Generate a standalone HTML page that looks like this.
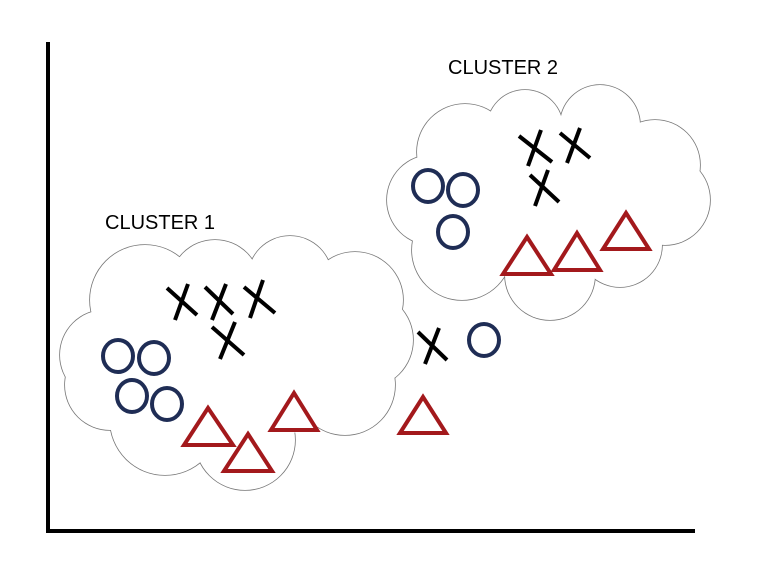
<!DOCTYPE html><html><head><style>body{margin:0;background:#fff}</style></head><body>
<svg width="760" height="576" xmlns="http://www.w3.org/2000/svg">
<rect width="760" height="576" fill="#fff"/>
<g stroke="#777" stroke-width="1.6" fill="#fff">
<circle cx="145" cy="300" r="55"/><circle cx="215" cy="285" r="45"/><circle cx="290" cy="278" r="42"/>
<circle cx="355" cy="300" r="48"/><circle cx="365" cy="340" r="48"/><circle cx="345" cy="385" r="50"/>
<circle cx="245" cy="440" r="50"/><circle cx="165" cy="420" r="55"/><circle cx="110" cy="385" r="45"/><circle cx="105" cy="355" r="45"/>
<circle cx="465" cy="152" r="48"/><circle cx="525" cy="128" r="38"/><circle cx="600" cy="125" r="40"/>
<circle cx="655" cy="165" r="45"/><circle cx="665" cy="200" r="45"/><circle cx="620" cy="245" r="42"/>
<circle cx="550" cy="275" r="45"/><circle cx="462" cy="250" r="50"/><circle cx="432" cy="200" r="45"/>
</g>
<g fill="#fff">
<circle cx="145" cy="300" r="55"/><circle cx="215" cy="285" r="45"/><circle cx="290" cy="278" r="42"/>
<circle cx="355" cy="300" r="48"/><circle cx="365" cy="340" r="48"/><circle cx="345" cy="385" r="50"/>
<circle cx="245" cy="440" r="50"/><circle cx="165" cy="420" r="55"/><circle cx="110" cy="385" r="45"/><circle cx="105" cy="355" r="45"/>
<ellipse cx="240" cy="360" rx="130" ry="80"/>
<circle cx="465" cy="152" r="48"/><circle cx="525" cy="128" r="38"/><circle cx="600" cy="125" r="40"/>
<circle cx="655" cy="165" r="45"/><circle cx="665" cy="200" r="45"/><circle cx="620" cy="245" r="42"/>
<circle cx="550" cy="275" r="45"/><circle cx="462" cy="250" r="50"/><circle cx="432" cy="200" r="45"/>
<ellipse cx="550" cy="200" rx="110" ry="75"/>
</g>
<g stroke="#000" stroke-width="4">
<line x1="48" y1="42" x2="48" y2="533"/><line x1="48" y1="531" x2="695" y2="531"/>
</g>
<g stroke="#000" stroke-width="4" fill="none">
<path d="M167,288 L197,315 M175,320 L188,284"/>
<path d="M205,287 L233,314 M212,320 L226,284"/>
<path d="M244,287 L275,313 M250,318 L263,280"/>
<path d="M212,327 L244,355 M220,359 L235,322"/>
<path d="M519,136 L552,162 M528,166 L541,130"/>
<path d="M560,133 L590,158 M567,163 L580,128"/>
<path d="M530,175 L559,202 M535,206 L548,170"/>
<path d="M418,332 L447,360 M425,364 L439,328"/>
</g>
<g stroke="#1f2d55" stroke-width="4" fill="none">
<ellipse cx="118" cy="356" rx="15" ry="16"/><ellipse cx="154" cy="358" rx="15" ry="16"/>
<ellipse cx="132" cy="396" rx="15" ry="16"/><ellipse cx="167" cy="404" rx="15" ry="16"/>
<ellipse cx="428" cy="186" rx="15" ry="16"/><ellipse cx="463" cy="190" rx="15" ry="16"/>
<ellipse cx="453" cy="232" rx="15" ry="16"/><ellipse cx="484" cy="340" rx="15" ry="16"/>
</g>
<g stroke="#a3191c" stroke-width="4" fill="none" stroke-linejoin="miter">
<polygon points="208,408 233,445 184,445"/><polygon points="248,434 272,471 224,471"/>
<polygon points="294,393 317,430 271,430"/><polygon points="423,397 446,433 400,433"/>
<polygon points="527,237 551,274 503,274"/><polygon points="577,233 600,270 554,270"/>
<polygon points="626,213 649,249 603,249"/>
</g>
<g font-family="Liberation Sans, sans-serif" font-size="20" fill="#000">
<text x="105" y="229">CLUSTER 1</text><text x="448" y="74">CLUSTER 2</text>
</g>
</svg></body></html>
